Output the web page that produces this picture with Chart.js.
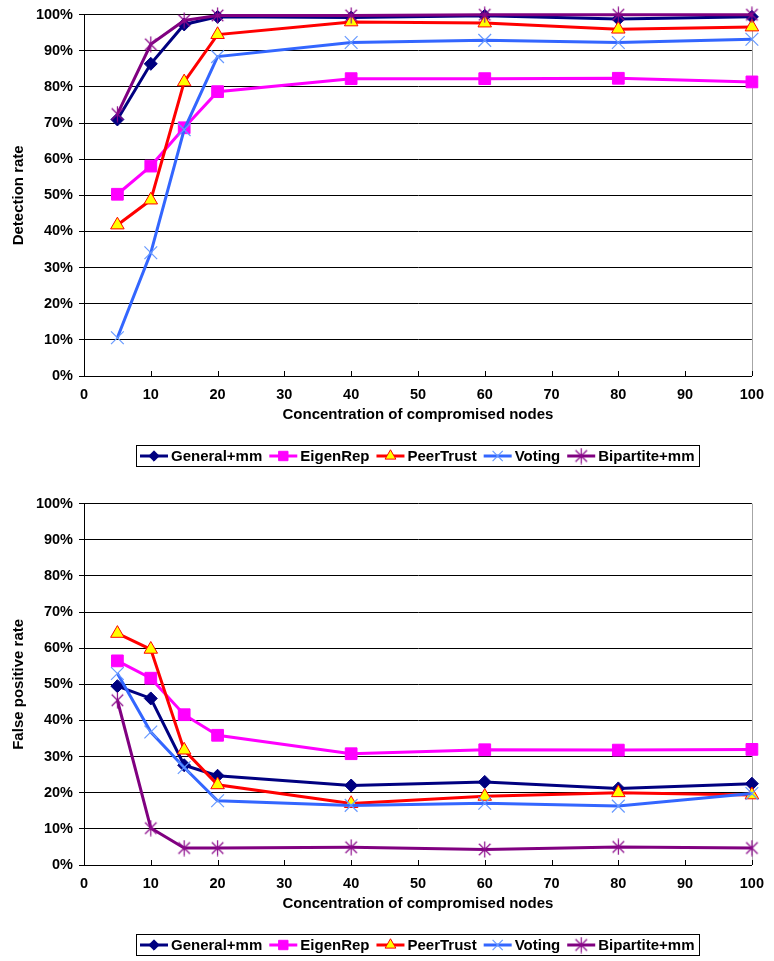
<!DOCTYPE html>
<html>
<head>
<meta charset="utf-8">
<title>Detection and false positive rates</title>
<script src="https://cdn.jsdelivr.net/npm/chart.js@4.4.1/dist/chart.umd.min.js"></script>
<style>
  html, body { margin: 0; padding: 0; background: #ffffff; }
  .panel { position: absolute; left: 0; width: 774px; }
</style>
</head>
<body>
<div class="panel" style="top:0px;height:480px"><canvas id="detectionChart" width="774" height="480"></canvas></div>
<div class="panel" style="top:489px;height:472px"><canvas id="falsePositiveChart" width="774" height="472"></canvas></div>
<script>
// Concentration of compromised nodes (x values)
const concentration = [5, 10, 15, 20, 40, 60, 80, 100];
const seriesNames = ['General+mm', 'EigenRep', 'PeerTrust', 'Voting', 'Bipartite+mm'];
const xTickValues = [0, 10, 20, 30, 40, 50, 60, 70, 80, 90, 100];
const yTickValues = [0, 10, 20, 30, 40, 50, 60, 70, 80, 90, 100];

// Detection rate (%)
const detectionGeneral   = [71.0, 86.4, 97.3, 99.4, 99.2, 99.7, 98.8, 99.4];
const detectionEigenRep  = [50.3, 58.1, 68.7, 78.7, 82.3, 82.3, 82.4, 81.4];
const detectionPeerTrust = [41.8, 48.7, 81.4, 94.5, 98.0, 97.7, 96.0, 96.6];
const detectionVoting    = [10.6, 34.1, 68.2, 88.4, 92.3, 92.9, 92.3, 93.2];
const detectionBipartite = [72.5, 91.8, 98.4, 99.8, 99.8, 100, 100, 100];

// False positive rate (%)
const fpGeneral   = [49.5, 46.1, 27.6, 24.7, 22.0, 23.0, 21.2, 22.5];
const fpEigenRep  = [56.5, 51.7, 41.6, 35.9, 30.8, 31.9, 31.8, 32.0];
const fpPeerTrust = [64.1, 59.7, 31.8, 22.2, 17.0, 19.0, 20.0, 19.4];
const fpVoting    = [53.0, 36.8, 27.0, 17.8, 16.5, 17.1, 16.3, 19.8];
const fpBipartite = [45.6, 10.2, 4.7, 4.7, 4.9, 4.3, 5.0, 4.7];

const FONT_FAMILY = '"Liberation Sans", Arial, Helvetica, sans-serif';

// Asterisk marker: vertical bar plus a diagonal cross
function asteriskMarker(color, size) {
  const c = document.createElement('canvas');
  c.width = size; c.height = size;
  const g = c.getContext('2d');
  const h = size / 2, r = size / 2 - 0.5, d = r * 0.72;
  g.strokeStyle = color;
  g.lineWidth = 1.2;
  g.beginPath();
  g.moveTo(h, h - r); g.lineTo(h, h + r);
  g.moveTo(h - d, h - d); g.lineTo(h + d, h + d);
  g.moveTo(h + d, h - d); g.lineTo(h - d, h + d);
  g.stroke();
  return c;
}

const starImage = asteriskMarker('#8b0a8b', 17);

function pairs(values) {
  return concentration.map((c, i) => ({ x: c, y: values[i] }));
}

function buildDatasets(general, eigen, peer, voting, bipartite) {
  const common = { borderWidth: 3, tension: 0, clip: false, fill: false };
  return [
    Object.assign({}, common, {
      label: seriesNames[0], data: pairs(general),
      borderColor: '#000080', backgroundColor: '#000080',
      pointStyle: 'rectRot', pointRadius: 6.5,
      pointBackgroundColor: '#000080', pointBorderColor: '#000080', pointBorderWidth: 1,
      order: 4
    }),
    Object.assign({}, common, {
      label: seriesNames[1], data: pairs(eigen),
      borderColor: '#ff00ff', backgroundColor: '#ff00ff',
      pointStyle: 'rect', pointRadius: 8.3,
      pointBackgroundColor: '#ff00ff', pointBorderColor: '#ff00ff', pointBorderWidth: 1,
      order: 3
    }),
    Object.assign({}, common, {
      label: seriesNames[2], data: pairs(peer),
      borderColor: '#ff0000', backgroundColor: '#ffff00',
      pointStyle: 'triangle', pointRadius: 7.8,
      pointBackgroundColor: '#ffff00', pointBorderColor: '#ff0000', pointBorderWidth: 1,
      order: 2
    }),
    Object.assign({}, common, {
      label: seriesNames[3], data: pairs(voting),
      borderColor: '#3366ff', backgroundColor: '#6699ff',
      pointStyle: 'crossRot', pointRadius: 9,
      pointBackgroundColor: '#6699ff', pointBorderColor: '#6699ff', pointBorderWidth: 1.2,
      order: 1
    }),
    Object.assign({}, common, {
      label: seriesNames[4], data: pairs(bipartite),
      borderColor: '#800080', backgroundColor: '#800080',
      pointStyle: starImage, pointRadius: 8,
      pointBackgroundColor: '#800080', pointBorderColor: '#800080', pointBorderWidth: 1,
      order: 0
    })
  ];
}

// Gray right edge of the plot area and short inward tick marks on the x axis
const plotFrame = {
  id: 'plotFrame',
  beforeDatasetsDraw(chart) {
    const { ctx, chartArea: a } = chart;
    const xs = chart.scales.x;
    ctx.save();
    ctx.lineWidth = 1;
    ctx.strokeStyle = '#a6a6a6';
    const rx = Math.round(a.right) + 0.5;
    ctx.beginPath();
    ctx.moveTo(rx, a.top);
    ctx.lineTo(rx, a.bottom);
    ctx.stroke();
    ctx.strokeStyle = '#000000';
    ctx.beginPath();
    xTickValues.forEach(v => {
      const px = Math.round(xs.getPixelForValue(v)) + 0.5;
      ctx.moveTo(px, a.bottom);
      ctx.lineTo(px, a.bottom - 5);
    });
    ctx.stroke();
    ctx.restore();
  }
};

// Boxed legend below the axis title, each entry showing line + marker
const boxedLegend = {
  id: 'boxedLegend',
  afterDraw(chart) {
    const ctx = chart.ctx;
    const a = chart.chartArea;
    const dsList = chart.data.datasets;
    ctx.save();
    ctx.font = 'bold 15px ' + FONT_FAMILY;
    const sample = 28, gapText = 3, gapItem = 7, padL = 4, padR = 5;
    const widths = dsList.map(ds => ctx.measureText(ds.label).width);
    let total = padL + padR;
    widths.forEach((w, i) => { total += sample + gapText + w + (i < widths.length - 1 ? gapItem : 0); });
    total = Math.round(total);
    const boxTop = 445, boxH = 21;
    const left = Math.round((a.left + a.right) / 2 - total / 2);
    ctx.lineWidth = 1;
    ctx.strokeStyle = '#000000';
    ctx.strokeRect(left + 0.5, boxTop + 0.5, total, boxH);
    const cy = boxTop + boxH / 2 + 0.5;
    let x = left + padL;
    dsList.forEach((ds, i) => {
      ctx.strokeStyle = ds.borderColor;
      ctx.lineWidth = ds.borderWidth;
      ctx.beginPath();
      ctx.moveTo(x, cy);
      ctx.lineTo(x + sample, cy);
      ctx.stroke();
      ctx.fillStyle = ds.pointBackgroundColor;
      ctx.strokeStyle = ds.pointBorderColor;
      ctx.lineWidth = ds.pointBorderWidth;
      Chart.helpers.drawPoint(ctx, {
        pointStyle: ds.pointStyle,
        radius: ds.pointRadius * 0.8,
        rotation: 0,
        borderWidth: ds.pointBorderWidth
      }, x + sample / 2, cy);
      ctx.fillStyle = '#000000';
      ctx.textAlign = 'left';
      ctx.textBaseline = 'middle';
      ctx.fillText(ds.label, x + sample + gapText, cy + 1);
      x += sample + gapText + widths[i] + gapItem;
    });
    ctx.restore();
  }
};

function makeChart(canvasId, canvasHeight, yTitle, datasets) {
  const tickFont = { family: FONT_FAMILY, size: 14.5, weight: 'bold' };
  const titleFont = { family: FONT_FAMILY, size: 15, weight: 'bold' };
  return new Chart(document.getElementById(canvasId), {
    type: 'line',
    data: { datasets: datasets },
    plugins: [plotFrame, boxedLegend],
    options: {
      responsive: false,
      animation: false,
      events: [],
      layout: { padding: { top: 12, right: 14, bottom: canvasHeight - 376 - 60, left: 0 } },
      plugins: { legend: { display: false }, tooltip: { enabled: false } },
      scales: {
        x: {
          type: 'linear', min: 0, max: 100,
          afterBuildTicks(s) { s.ticks = xTickValues.map(v => ({ value: v })); },
          ticks: { color: '#000000', font: tickFont, padding: 10, maxRotation: 0 },
          grid: { display: false, drawTicks: false, tickLength: 0 },
          border: { display: true, color: '#000000', width: 1 },
          title: {
            display: true, text: 'Concentration of compromised nodes',
            color: '#000000', font: titleFont, padding: { top: 0, bottom: 12 }
          },
          afterFit(s) { s.height = 60; }
        },
        y: {
          min: 0, max: 100,
          afterBuildTicks(s) { s.ticks = yTickValues.map(v => ({ value: v })); },
          ticks: { color: '#000000', font: tickFont, padding: 6, callback: v => v + '%' },
          grid: { color: '#000000', lineWidth: 1, tickLength: 5, tickColor: '#000000' },
          border: { display: true, color: '#000000', width: 1 },
          title: {
            display: true, text: yTitle,
            color: '#000000', font: titleFont, padding: { top: 10, bottom: 0 }
          },
          afterFit(s) { s.width = 84; }
        }
      }
    }
  });
}

makeChart('detectionChart', 480, 'Detection rate',
  buildDatasets(detectionGeneral, detectionEigenRep, detectionPeerTrust, detectionVoting, detectionBipartite));
makeChart('falsePositiveChart', 472, 'False positive rate',
  buildDatasets(fpGeneral, fpEigenRep, fpPeerTrust, fpVoting, fpBipartite));
</script>
</body>
</html>
